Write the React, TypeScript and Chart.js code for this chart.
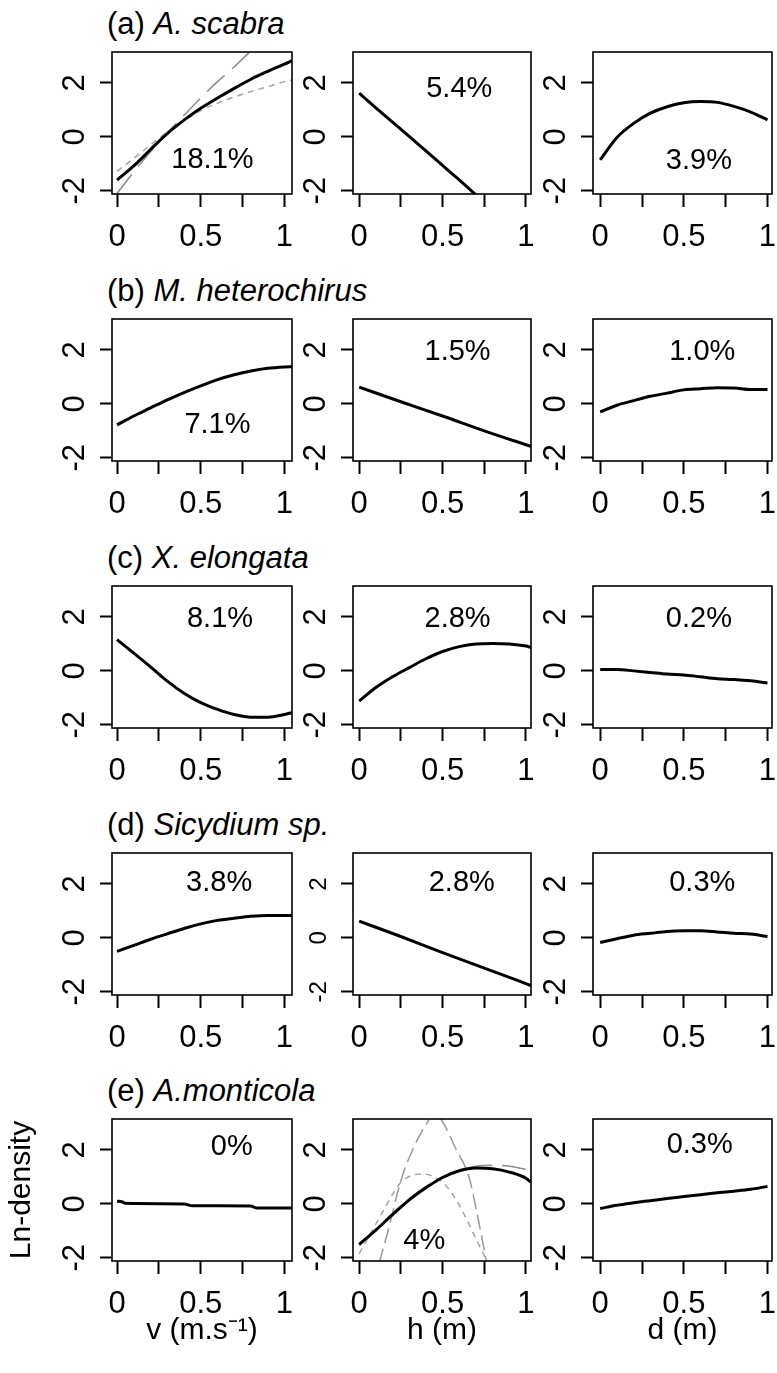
import React, { useEffect, useRef } from 'react';
import { Chart, registerables } from 'chart.js';

Chart.register(...registerables);

const FONT = '"Liberation Sans", Arial, Helvetica, sans-serif';

// ---------- predictor grids (relative units) ----------
const gridV = [0, 0.1, 0.2, 0.3, 0.4, 0.5, 0.6, 0.7, 0.8, 0.9, 1.0, 1.045];
const gridH = [0, 0.1, 0.2, 0.3, 0.4, 0.5, 0.6, 0.7, 0.8, 0.9, 1.0, 1.03];
const gridD = [0, 0.1, 0.2, 0.3, 0.4, 0.5, 0.6, 0.7, 0.8, 0.9, 1.0];
const gridLinear = [0, 0.25, 0.5, 0.75, 1.03];

// ---------- (a) A. scabra ----------
const scabraV = [-1.6, -1.08, -0.47, 0.12, 0.62, 1.06, 1.44, 1.8, 2.14, 2.43, 2.7, 2.83];
const scabraVShort = [-1.28, -0.8, -0.3, 0.18, 0.6, 0.98, 1.25, 1.48, 1.68, 1.86, 2.05, 2.11];
const scabraVLongX = [0, 0.1, 0.2, 0.3, 0.4, 0.5, 0.6, 0.7, 0.8];
const scabraVLong = [-2.1, -1.3, -0.55, 0.15, 0.8, 1.45, 2.05, 2.6, 3.2];
const scabraHX = [0, 0.1, 0.2, 0.3, 0.4, 0.5, 0.6, 0.7];
const scabraH = [1.62, 1.08, 0.55, 0.02, -0.52, -1.06, -1.6, -2.15];
const scabraD = [-0.85, -0.02, 0.5, 0.88, 1.12, 1.27, 1.31, 1.28, 1.13, 0.92, 0.63];

// ---------- (b) M. heterochirus ----------
const heteroV = [-0.78, -0.45, -0.15, 0.15, 0.42, 0.67, 0.9, 1.08, 1.22, 1.32, 1.37, 1.38];
const heteroH = [0.62, 0.08, -0.45, -1.0, -1.58];
const heteroD = [-0.3, -0.05, 0.12, 0.28, 0.4, 0.52, 0.56, 0.6, 0.59, 0.53, 0.53];

// ---------- (c) X. elongata ----------
const elongataV = [1.16, 0.66, 0.15, -0.38, -0.83, -1.18, -1.43, -1.62, -1.72, -1.72, -1.62, -1.55];
const elongataH = [-1.12, -0.62, -0.22, 0.12, 0.45, 0.72, 0.9, 1.0, 1.02, 1.0, 0.92, 0.87];
const elongataD = [0.05, 0.05, 0.0, -0.06, -0.12, -0.15, -0.22, -0.29, -0.32, -0.37, -0.45];

// ---------- (d) Sicydium sp. ----------
const sicydiumV = [-0.5, -0.28, -0.05, 0.15, 0.35, 0.52, 0.65, 0.73, 0.8, 0.83, 0.83, 0.83];
const sicydiumH = [0.62, 0.05, -0.55, -1.12, -1.77];
const sicydiumD = [-0.17, -0.03, 0.1, 0.17, 0.24, 0.26, 0.26, 0.22, 0.17, 0.14, 0.05];

// ---------- (e) A. monticola ----------
const monticolaVX = [0, 0.03, 0.05, 0.4, 0.45, 0.8, 0.83, 1.045];
const monticolaV = [0.1, 0.08, 0.02, 0.0, -0.07, -0.08, -0.15, -0.15];
const monticolaH = [-1.5, -0.97, -0.4, 0.15, 0.6, 0.98, 1.23, 1.33, 1.3, 1.18, 0.95, 0.8];
const monticolaHLong = [-1.55, -0.95, -0.35, 0.2, 0.65, 1.0, 1.25, 1.4, 1.43, 1.4, 1.28, 1.24];
const monticolaHShortX = [0, 0.05, 0.1, 0.15, 0.2, 0.25, 0.3, 0.35, 0.4, 0.45, 0.5, 0.55, 0.6, 0.65, 0.7, 0.77];
const monticolaHShort = [-1.85, -1.3, -0.75, -0.2, 0.35, 0.8, 1.02, 1.1, 1.1, 1.0, 0.8, 0.45, -0.05, -0.65, -1.3, -2.15];
const monticolaHPeakX = [0.12, 0.17, 0.255, 0.32, 0.4, 0.455, 0.51, 0.575, 0.66, 0.71, 0.765];
const monticolaHPeak = [-2.2, -1.07, 0.96, 2.0, 2.94, 3.35, 2.94, 2.1, 0.96, -0.46, -2.2];
const monticolaD = [-0.17, -0.05, 0.04, 0.12, 0.2, 0.27, 0.34, 0.41, 0.47, 0.54, 0.65];

// ---------- explained-deviance notes ----------
const scabraPct = ['18.1%', '5.4%', '3.9%'];
const heteroPct = ['7.1%', '1.5%', '1.0%'];
const elongataPct = ['8.1%', '2.8%', '0.2%'];
const sicydiumPct = ['3.8%', '2.8%', '0.3%'];
const monticolaPct = ['0%', '4%', '0.3%'];
// note anchors in data units (x, y) per panel
const noteX = [
  [0.57, 0.6, 0.59],
  [0.6, 0.59, 0.61],
  [0.615, 0.59, 0.59],
  [0.61, 0.615, 0.61],
  [0.685, 0.39, 0.595],
];
const noteY = [
  [-0.85, 1.76, -0.91],
  [-0.8, 1.93, 1.93],
  [1.93, 1.93, 1.93],
  [2.05, 2.05, 2.05],
  [2.12, -1.39, 2.2],
];

// ---------- labels ----------
const rowTags = ['(a)', '(b)', '(c)', '(d)', '(e)'];
const species = ['A. scabra', 'M. heterochirus', 'X. elongata', 'Sicydium sp.', 'A.monticola'];
const xTitles = ['v (m.s\u207B\u00B9)', 'h (m)', 'd (m)'];
const yTitle = 'Ln-density';
const xTicks = [0, 0.25, 0.5, 0.75, 1];
const xTickLabels = ['0', '', '0.5', '', '1'];
const yTicks = [-2, 0, 2];
const yTickLabels = ['-2', '0', '2'];

// ---------- layout ----------
const COL_LEFT = [112, 353, 593];
const COL_RIGHT = [292, 531, 772];
const ROW_TOP = [52, 319, 586, 853, 1119];
const BOX_H = 142;
const X_RANGE = [
  [-0.03, 1.045],
  [-0.037, 1.03],
  [-0.043, 1.027],
];
const Y_MIN = -2.12;
const Y_MAX = 3.15;

type Style = 'fit' | 'long' | 'short' | 'peak';
type Curve = { xs: number[]; ys: number[]; style: Style };

const STYLES: Record<Style, { color: string; width: number; dash: number[] }> = {
  fit: { color: '#000000', width: 3, dash: [] },
  long: { color: '#8c8c8c', width: 1.5, dash: [24, 10] },
  short: { color: '#a4a4a4', width: 1.5, dash: [6, 5] },
  peak: { color: '#999999', width: 1.5, dash: [15, 6] },
};

const c = (xs: number[], ys: number[], style: Style = 'fit'): Curve => ({ xs, ys, style });

const PANELS: Curve[][][] = [
  [
    [c(gridV, scabraV), c(scabraVLongX, scabraVLong, 'long'), c(gridV, scabraVShort, 'short')],
    [c(scabraHX, scabraH)],
    [c(gridD, scabraD)],
  ],
  [[c(gridV, heteroV)], [c(gridLinear, heteroH)], [c(gridD, heteroD)]],
  [[c(gridV, elongataV)], [c(gridH, elongataH)], [c(gridD, elongataD)]],
  [[c(gridV, sicydiumV)], [c(gridLinear, sicydiumH)], [c(gridD, sicydiumD)]],
  [
    [c(monticolaVX, monticolaV)],
    [
      c(gridH, monticolaH),
      c(gridH, monticolaHLong, 'long'),
      c(monticolaHShortX, monticolaHShort, 'short'),
      c(monticolaHPeakX, monticolaHPeak, 'peak'),
    ],
    [c(gridD, monticolaD)],
  ],
];
const NOTES = [scabraPct, heteroPct, elongataPct, sicydiumPct, monticolaPct];

const framePlugin = {
  id: 'frame',
  afterDatasetsDraw(chart: any) {
    const { ctx, chartArea: a } = chart;
    ctx.save();
    ctx.strokeStyle = '#000';
    ctx.lineWidth = 1.6;
    ctx.strokeRect(a.left, a.top, a.right - a.left, a.bottom - a.top);
    ctx.restore();
  },
};

const notePlugin = {
  id: 'note',
  afterDraw(chart: any, _args: any, opts: any) {
    if (!opts || !opts.text) return;
    const { ctx, scales } = chart;
    ctx.save();
    ctx.fillStyle = '#000';
    ctx.font = `${opts.size}px ${FONT}`;
    ctx.textAlign = 'center';
    ctx.textBaseline = 'middle';
    ctx.fillText(opts.text, scales.x.getPixelForValue(opts.x), scales.y.getPixelForValue(opts.y));
    ctx.restore();
  },
};

function Panel({ row, col }: { row: number; col: number }) {
  const ref = useRef<HTMLCanvasElement>(null);
  const left = col === 0 ? 0 : COL_LEFT[col] - 62;
  const padL = COL_LEFT[col] - left;
  const padT = 8;
  const padR = 4;
  const axisH = row === 4 ? 100 : 64;
  const top = ROW_TOP[row] - padT;
  const width = COL_RIGHT[col] + padR - left;
  const height = padT + BOX_H + axisH;
  const yTickSize = row === 3 && col === 1 ? 24 : 31;

  useEffect(() => {
    if (!ref.current) return;
    const curves = PANELS[row][col];
    const chart = new Chart(ref.current, {
      type: 'line',
      data: {
        datasets: curves.map((cv) => {
          const s = STYLES[cv.style];
          return {
            data: cv.xs.map((x, i) => ({ x, y: cv.ys[i] })),
            borderColor: s.color,
            borderWidth: s.width,
            borderDash: s.dash,
            pointRadius: 0,
            fill: false,
            cubicInterpolationMode: 'monotone',
            clip: 0,
          };
        }),
      },
      options: {
        responsive: false,
        animation: false,
        devicePixelRatio: 1,
        layout: { padding: { left: 0, top: padT, right: padR, bottom: 0 } },
        plugins: {
          legend: { display: false },
          tooltip: { enabled: false },
          note: { text: NOTES[row][col], x: noteX[row][col], y: noteY[row][col], size: 29 },
        } as any,
        scales: {
          x: {
            type: 'linear',
            position: 'bottom',
            min: X_RANGE[col][0],
            max: X_RANGE[col][1],
            afterBuildTicks: (s: any) => {
              s.ticks = xTicks.map((v) => ({ value: v }));
            },
            afterFit: (s: any) => {
              s.height = axisH;
              s.paddingLeft = 0;
              s.paddingRight = 0;
            },
            grid: {
              display: true,
              drawOnChartArea: false,
              drawTicks: true,
              tickLength: 13,
              tickWidth: 2,
              tickColor: '#000',
              color: '#000',
            },
            border: { display: false },
            ticks: {
              autoSkip: false,
              minRotation: 0,
              maxRotation: 0,
              padding: 12,
              color: '#000',
              font: { family: FONT, size: 31 },
              callback: (_v: any, i: number) => xTickLabels[i],
            },
            title: {
              display: row === 4,
              text: xTitles[col],
              color: '#000',
              font: { family: FONT, size: 30 },
              padding: { top: 0, bottom: 12 },
            },
          },
          y: {
            type: 'linear',
            min: Y_MIN,
            max: Y_MAX,
            afterBuildTicks: (s: any) => {
              s.ticks = yTicks.map((v) => ({ value: v }));
            },
            afterFit: (s: any) => {
              s.width = padL;
              s.paddingTop = 0;
              s.paddingBottom = 0;
            },
            grid: {
              display: true,
              drawOnChartArea: false,
              drawTicks: true,
              tickLength: 12,
              tickWidth: 2,
              tickColor: '#000',
              color: '#000',
            },
            border: { display: false },
            ticks: {
              autoSkip: false,
              minRotation: 90,
              maxRotation: 90,
              crossAlign: 'center',
              padding: 11,
              color: '#000',
              font: { family: FONT, size: yTickSize },
              callback: (_v: any, i: number) => yTickLabels[i],
            },
            title: {
              display: row === 4 && col === 0,
              text: yTitle,
              color: '#000',
              font: { family: FONT, size: 30 },
              padding: { top: 4, bottom: 0 },
            },
          },
        },
      } as any,
      plugins: [framePlugin, notePlugin],
    });
    return () => chart.destroy();
  }, [row, col]);

  return (
    <canvas
      ref={ref}
      width={width}
      height={height}
      style={{ position: 'absolute', left, top, width, height, display: 'block' }}
    />
  );
}

export default function App() {
  return (
    <div
      style={{
        position: 'absolute',
        left: 0,
        top: 0,
        width: 777,
        height: 1373,
        background: '#fff',
        overflow: 'hidden',
      }}
    >
      {ROW_TOP.map((t, r) => (
        <div
          key={`title-${r}`}
          style={{
            position: 'absolute',
            left: 107,
            top: t - 44,
            fontFamily: FONT,
            fontSize: 31,
            lineHeight: '31px',
            whiteSpace: 'nowrap',
            color: '#000',
          }}
        >
          {rowTags[r]} <i>{species[r]}</i>
        </div>
      ))}
      {ROW_TOP.map((_, r) =>
        [0, 1, 2].map((col) => <Panel key={`p-${r}-${col}`} row={r} col={col} />)
      )}
    </div>
  );
}
